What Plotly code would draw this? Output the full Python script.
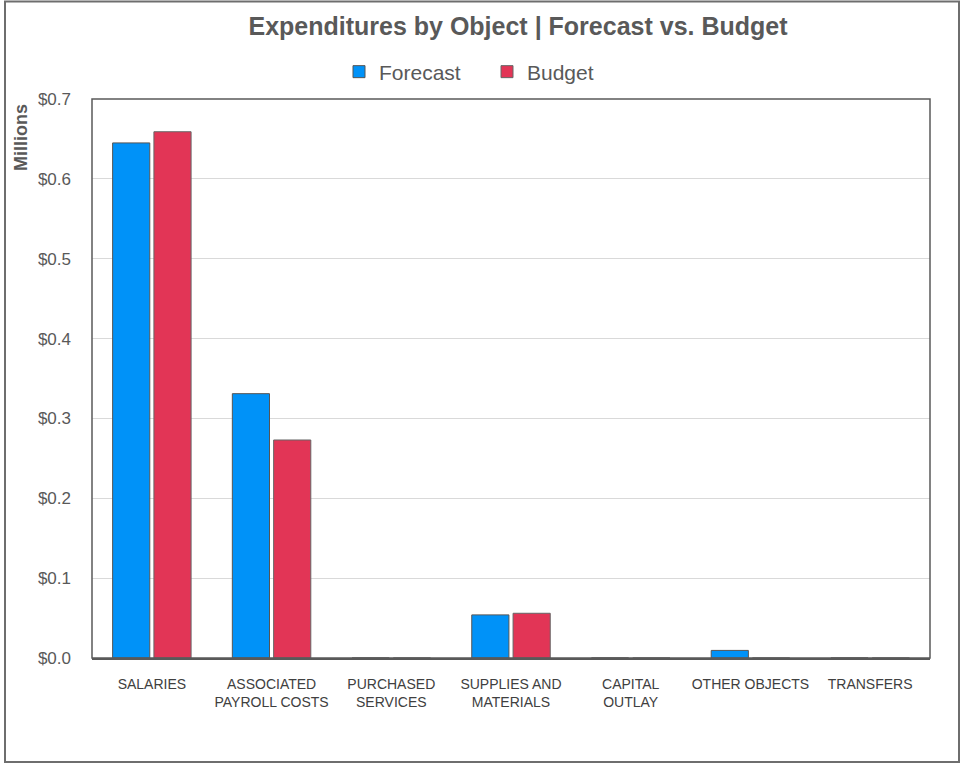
import plotly.graph_objects as go

categories = ["SALARIES", "ASSOCIATED<br>PAYROLL COSTS", "PURCHASED<br>SERVICES",
              "SUPPLIES AND<br>MATERIALS", "CAPITAL<br>OUTLAY", "OTHER OBJECTS", "TRANSFERS"]
forecast = [0.645, 0.331, 0.0, 0.054, 0.0, 0.0095, 0.0]
budget = [0.659, 0.273, 0.0, 0.056, 0.0, 0.0, 0.0]
y_ticks = [0.0, 0.1, 0.2, 0.3, 0.4, 0.5, 0.6, 0.7]
y_tick_labels = ["$0.0", "$0.1", "$0.2", "$0.3", "$0.4", "$0.5", "$0.6", "$0.7"]

W, H = 961, 764
L, R, T, B = 92, 930, 99, 658

fig = go.Figure()
fig.add_trace(go.Bar(name="Forecast", x=categories, y=forecast,
                     marker=dict(color="#0092F8", line=dict(color="#555555", width=1))))
fig.add_trace(go.Bar(name="Budget", x=categories, y=budget,
                     marker=dict(color="#E23556", line=dict(color="#666666", width=1))))

def px_x(p):
    return (p - L) / (R - L)

def px_y(p):
    return (B - p) / (B - T)

fig.update_layout(
    width=W, height=H,
    margin=dict(l=L, r=W - R, t=T, b=H - B, autoexpand=False),
    paper_bgcolor="white", plot_bgcolor="white",
    barmode="group", bargap=0.31, bargroupgap=0.1,
    font=dict(family="Liberation Sans, Arial, sans-serif", color="#595959"),
    title=dict(text="<b>Expenditures by Object | Forecast vs. Budget</b>",
               x=518 / W, xref="container", xanchor="center",
               y=1 - 26 / H, yref="container", yanchor="middle",
               font=dict(size=25, color="#595959")),
    legend=dict(orientation="h", x=(381 - 42) / W, xref="container", xanchor="left",
                y=1 - 72 / H, yref="container", yanchor="middle",
                font=dict(size=21, color="#595959"), itemwidth=30,
                traceorder="normal", entrywidth=103),
    showlegend=True,
    xaxis=dict(showgrid=False, showline=True, linecolor="#595959", linewidth=2,
               mirror=False, ticks="", ticklabelstandoff=12,
               tickfont=dict(family="Liberation Sans Narrow, Liberation Sans, sans-serif",
                             size=14, color="#404040"),
               automargin=False),
    yaxis=dict(range=[0, 0.7], tickvals=y_ticks, ticktext=y_tick_labels,
               showgrid=True, gridcolor="#d9d9d9", gridwidth=1, zeroline=False,
               showline=False, ticks="", ticklabelstandoff=20,
               tickfont=dict(size=17, color="#595959"), automargin=False),
)

# plot area frame
fig.add_shape(type="rect", xref="paper", yref="paper", x0=0, x1=1, y0=0, y1=1,
              line=dict(color="#595959", width=1.5), layer="above")
# outer chart border
fig.add_shape(type="rect", xref="paper", yref="paper",
              x0=px_x(5), x1=px_x(959), y0=px_y(762), y1=px_y(1.5),
              line=dict(color="#6e6e6e", width=2), layer="above")

fig.add_annotation(text="<b>Millions</b>", xref="paper", yref="paper",
                   x=px_x(21), y=px_y(138), textangle=-90, showarrow=False,
                   font=dict(size=18, color="#595959"), xanchor="center", yanchor="middle")

fig.write_html("out.html", config={"displayModeBar": False},
               post_script="document.body.style.margin='0';")
